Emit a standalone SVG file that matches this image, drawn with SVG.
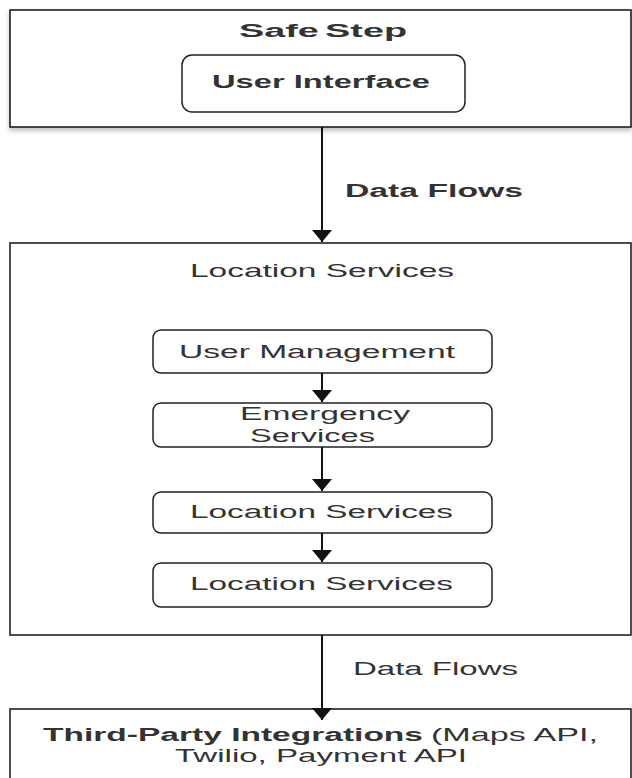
<svg xmlns="http://www.w3.org/2000/svg" width="632" height="778" viewBox="0 0 632 778">
<defs>
<filter id="sh" x="-5%" y="-10%" width="110%" height="130%">
<feDropShadow dx="0" dy="3" stdDeviation="2.5" flood-color="#000" flood-opacity="0.25"/>
</filter>
<marker id="ah" viewBox="0 0 20 12" refX="10" refY="12" markerWidth="20" markerHeight="12" markerUnits="userSpaceOnUse" orient="0">
<path d="M0,0 L20,0 L10,12 Z" fill="#111"/>
</marker>
</defs>
<style>
.cont{fill:#fff;stroke:#222;stroke-width:1.6}
.box{fill:#fff;stroke:#222;stroke-width:1.5}
.t{font-family:"Liberation Sans",Arial,sans-serif;font-size:18px;fill:#333;text-anchor:start}
.b{font-weight:bold}
.edge{stroke:#111;stroke-width:2;fill:none}
</style>
<rect width="632" height="778" fill="#fff"/>
<g id="safestep">
<rect class="cont" x="10" y="10" width="621" height="117" filter="url(#sh)"/>
<text class="t b" x="239" y="37" font-size="19" fill="#111" textLength="168" lengthAdjust="spacingAndGlyphs">Safe<tspan dx="3">Step</tspan></text>
</g>
<g id="user-interface">
<rect class="box" x="182" y="55" width="283" height="57" rx="10"/>
<text class="t b" x="212" y="88" textLength="218" lengthAdjust="spacingAndGlyphs">User Interface</text>
</g>
<g id="location-services-group">
<rect class="cont" x="10" y="243" width="621" height="392"/>
<text class="t" x="190" y="277" textLength="264" lengthAdjust="spacingAndGlyphs">Location Services</text>
</g>
<g id="user-management">
<rect class="box" x="153" y="330" width="339" height="43" rx="8"/>
<text class="t" x="179" y="358" textLength="276" lengthAdjust="spacingAndGlyphs">User Management</text>
</g>
<g id="emergency-services">
<rect class="box" x="153" y="403" width="339" height="44" rx="8"/>
<text class="t" x="240" y="420" textLength="170" lengthAdjust="spacingAndGlyphs">Emergency</text>
<text class="t" x="250" y="442" textLength="125" lengthAdjust="spacingAndGlyphs">Services</text>
</g>
<g id="location-services-1">
<rect class="box" x="153" y="492" width="339" height="41" rx="8"/>
<text class="t" x="190" y="518" textLength="263" lengthAdjust="spacingAndGlyphs">Location Services</text>
</g>
<g id="location-services-2">
<rect class="box" x="153" y="563" width="339" height="44" rx="8"/>
<text class="t" x="190" y="590" textLength="263" lengthAdjust="spacingAndGlyphs">Location Services</text>
</g>
<g id="third-party">
<rect class="cont" x="10" y="709" width="621" height="80"/>
<text class="t" x="43" y="741"><tspan class="b" textLength="380" lengthAdjust="spacingAndGlyphs">Third-Party Integrations</tspan><tspan x="431" textLength="167" lengthAdjust="spacingAndGlyphs">(Maps API,</tspan></text>
<text class="t" x="175" y="762" textLength="292" lengthAdjust="spacingAndGlyphs">Twilio, Payment API</text>
</g>
<g id="connectors">
<line class="edge" x1="322" y1="127" x2="322" y2="242" marker-end="url(#ah)"/>
<text class="t b" x="345" y="197" textLength="178" lengthAdjust="spacingAndGlyphs">Data Flows</text>
<line class="edge" x1="322" y1="373" x2="322" y2="402" marker-end="url(#ah)"/>
<line class="edge" x1="322" y1="447" x2="322" y2="491" marker-end="url(#ah)"/>
<line class="edge" x1="322" y1="533" x2="322" y2="562" marker-end="url(#ah)"/>
<line class="edge" x1="322" y1="635" x2="322" y2="720" marker-end="url(#ah)"/>
<text class="t" x="353" y="675" textLength="165" lengthAdjust="spacingAndGlyphs">Data Flows</text>
</g>
</svg>
